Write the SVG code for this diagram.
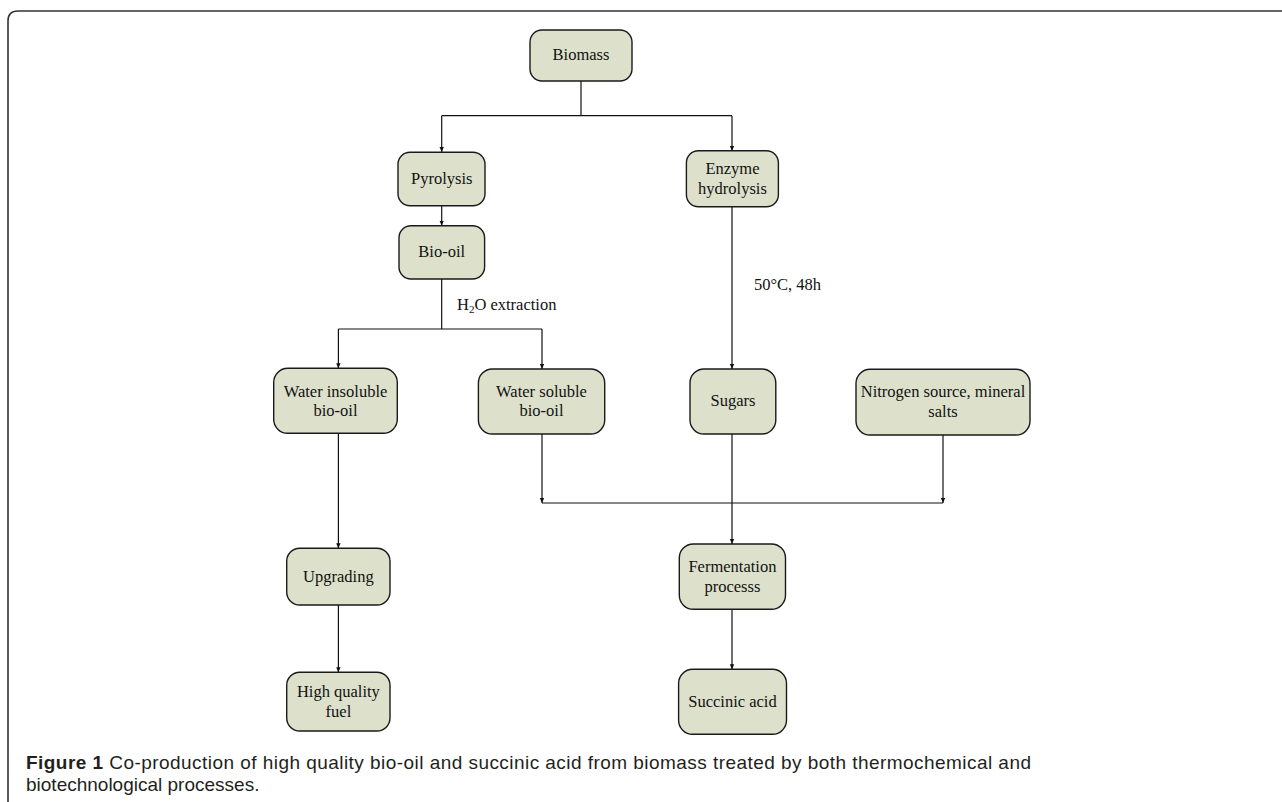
<svg xmlns="http://www.w3.org/2000/svg" width="1282" height="802" viewBox="0 0 1282 802">
<defs>
<marker id="ah" markerWidth="6" markerHeight="6" refX="5" refY="3" orient="auto" markerUnits="userSpaceOnUse">
<path d="M0,0.8 L5,3 L0,5.2 Z" fill="#111"/>
</marker>
<style>
.box{fill:#dde1cb;stroke:#1a1a1a;stroke-width:1.4}
.t{font-family:"Liberation Serif",serif;font-size:16.5px;fill:#111;text-anchor:middle}
.lbl{font-family:"Liberation Serif",serif;font-size:16.5px;fill:#111}
.c{fill:none;stroke:#111;stroke-width:1.2}
.a{fill:none;stroke:#111;stroke-width:1.2;marker-end:url(#ah)}
.cap{font-family:"Liberation Sans",Arial,sans-serif;font-size:19px;fill:#231f20}
</style>
</defs>
<rect width="1282" height="802" fill="#fff"/>
<path d="M8,810 L8,21 Q8,11 18,11 L1290,11" fill="none" stroke="#333" stroke-width="1.6"/>

<g id="connectors">
<path class="c" d="M581,81 V115.7 M441.7,115.7 H732"/>
<path class="a" d="M441.7,115.7 V152"/>
<path class="a" d="M732,115.7 V151"/>
<path class="a" d="M441.7,206 V225.7"/>
<path class="c" d="M441.7,279 V329 M338.4,329 H542"/>
<path class="a" d="M338.4,329 V368.3"/>
<path class="a" d="M542,329 V369"/>
<path class="a" d="M732,207 V369"/>
<path class="a" d="M338.4,433.3 V548.3"/>
<path class="a" d="M338.4,605 V672.3"/>
<path class="a" d="M542,434 V503"/>
<path class="a" d="M943,435 V503"/>
<path class="c" d="M542,503 H943"/>
<path class="a" d="M732,434 V544"/>
<path class="a" d="M732,609.3 V669.3"/>
</g>

<g id="biomass"><rect class="box" x="530" y="30" width="102" height="51" rx="12"/><text class="t" x="581" y="60">Biomass</text></g>
<g id="pyrolysis"><rect class="box" x="398" y="152.3" width="87" height="53.4" rx="12"/><text class="t" x="441.7" y="184">Pyrolysis</text></g>
<g id="enzyme"><rect class="box" x="686.4" y="150.7" width="92" height="56" rx="12"/><text class="t" x="732.5" y="174">Enzyme</text><text class="t" x="732.5" y="193.5">hydrolysis</text></g>
<g id="biooil"><rect class="box" x="399" y="225.7" width="85.6" height="53.3" rx="12"/><text class="t" x="441.7" y="256.7">Bio-oil</text></g>
<g id="insoluble"><rect class="box" x="273.7" y="368.3" width="123.6" height="65" rx="14"/><text class="t" x="335.5" y="396.7">Water insoluble</text><text class="t" x="335.5" y="416">bio-oil</text></g>
<g id="soluble"><rect class="box" x="478.4" y="369" width="126.3" height="65" rx="14"/><text class="t" x="541.5" y="396.7">Water soluble</text><text class="t" x="541.5" y="416">bio-oil</text></g>
<g id="sugars"><rect class="box" x="690" y="369" width="85.8" height="65" rx="14"/><text class="t" x="733" y="406">Sugars</text></g>
<g id="nitrogen"><rect class="box" x="856" y="369.3" width="174" height="65.7" rx="14"/><text class="t" x="943" y="397">Nitrogen source, mineral</text><text class="t" x="943" y="417">salts</text></g>
<g id="upgrading"><rect class="box" x="286.7" y="548.3" width="103.3" height="56.7" rx="13"/><text class="t" x="338.4" y="582.3">Upgrading</text></g>
<g id="fermentation"><rect class="box" x="679.3" y="544" width="106.2" height="65.3" rx="14"/><text class="t" x="732.4" y="572.3">Fermentation</text><text class="t" x="732.4" y="592.3">processs</text></g>
<g id="fuel"><rect class="box" x="286.7" y="672.3" width="103.3" height="58.7" rx="13"/><text class="t" x="338.4" y="696.7">High quality</text><text class="t" x="338.4" y="716.7">fuel</text></g>
<g id="succinic"><rect class="box" x="678.6" y="669.3" width="107.9" height="65" rx="14"/><text class="t" x="732.5" y="706.7">Succinic acid</text></g>

<text class="lbl" x="457" y="310">H<tspan font-size="11" dy="3">2</tspan><tspan dy="-3">O extraction</tspan></text>
<text class="lbl" x="754" y="290">50°C, 48h</text>

<text class="cap" x="26" y="769" textLength="1005" lengthAdjust="spacing"><tspan font-weight="bold">Figure 1</tspan> Co-production of high quality bio-oil and succinic acid from biomass treated by both thermochemical and</text>
<text class="cap" x="26" y="791">biotechnological processes.</text>
</svg>
